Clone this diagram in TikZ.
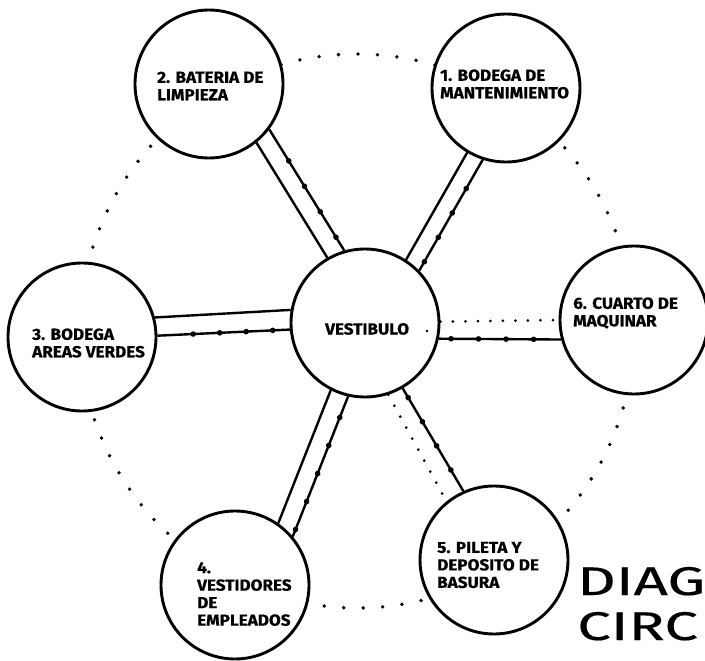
\documentclass[tikz,border=0pt]{standalone}
\usepackage{fontspec}
\setmainfont{Fira Sans}[FakeStretch=1.07,BoldFeatures={FakeBold=0.6}]
\newfontfamily\titlefont[FakeStretch=1.5,FakeBold=0.4]{Fira Sans}
\usetikzlibrary{decorations.markings}
\begin{document}
\begin{tikzpicture}[x=1pt,y=-1pt,
  room/.style={circle,draw,line width=2.9pt,fill=white,minimum size=148pt,inner sep=0pt},
  lbl/.style={anchor=west,align=left,inner sep=0pt,font=\fontsize{16}{17.5}\selectfont\bfseries},
  pipe/.style={line width=2.4pt},
  beads/.style 2 args={pipe,postaction={decorate},decoration={markings,
     mark=between positions #1 and 0.96 step #2 with {\fill (0,0) circle (2.8pt);}}},
  smalldots/.style={line width=3pt,line cap=round,dash pattern=on 0pt off 12.5pt},
  ringdots/.style={line width=3.8pt,line cap=round,dash pattern=on 0pt off 19.5pt},
  ]
\useasboundingbox (0,0) rectangle (705,661);
\clip (0,0) rectangle (705,661);
\fill[white] (0,0) rectangle (705,661);

% outer dotted ring
\draw[ringdots] (357,331) circle [radius=277];

% rooms
\node[room] (v)  at (365,323) {};
\node[room] (c1) at (506,88)  {};
\node[room] (c2) at (209,84)  {};
\node[room] (c3) at (82,337)  {};
\node[room] (c4) at (235,585) {};
\node[room] (c5) at (494,560) {};
\node[room] (c6) at (634,320) {};

% connectors
\draw[pipe] (c2.-51.4) -- (v.120.3);
\draw[beads={0.26}{0.21}] (c2.-37.9) -- (v.106.6);

\draw[pipe] (c1.239.3) -- (v.57.9);
\draw[beads={0.26}{0.22}] (c1.252.3) -- (v.44);

\draw[pipe] (c3.15) -- (v.170);
\draw[beads={0.27}{0.2}] (c3.1.5) -- (v.185.5);

\draw[smalldots] (v.1.5) -- (c6.180);
\draw[beads={0.1}{0.225}] (v.-12.8) -- (c6.195);

\draw[pipe] (v.243.8) -- (c4.55);
\draw[beads={0.15}{0.2}] (v.257.7) -- (c4.40);

\draw[beads={0.09}{0.235}] (v.-60.5) -- (c5.114.5);
\draw[smalldots] (v.-72) -- (c5.129);

% labels
\node[lbl] (t2) at (157,86)  {2. BATERIA DE\\LIMPIEZA};
\node[lbl] (t1) at (440,84)  {1. BODEGA DE\\MANTENIMIENTO};
\node[lbl] (t3) at (32,343)  {3. BODEGA\\AREAS VERDES};
\node[lbl] (t6) at (573,313) {6. CUARTO DE\\MAQUINAR};
\node[lbl] (tv) at (325,329) {VESTIBULO};
\fill (427,331) circle (1.3pt);
\node[lbl] (t4) at (197,594) {4.\\VESTIDORES\\DE\\EMPLEADOS};
\node[lbl] (t5) at (437,565) {5. PILETA Y\\DEPOSITO DE\\BASURA};

% title
\node[anchor=base west,inner sep=0pt,font=\titlefont\fontsize{40}{40}\selectfont] (title1) at (577,595) {DIAG};
\node[anchor=base west,inner sep=0pt,font=\titlefont\fontsize{40}{40}\selectfont] (title2) at (577,640) {CIRC};
\end{tikzpicture}
\end{document}
